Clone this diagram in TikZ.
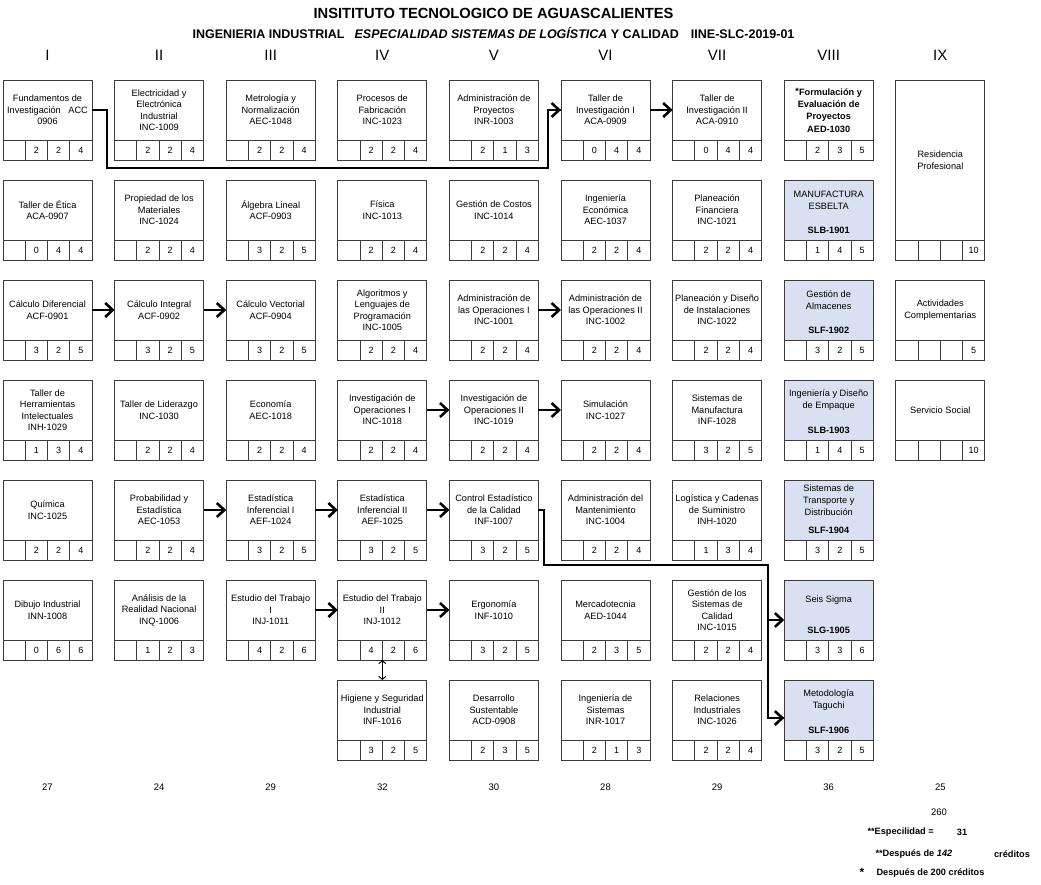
\documentclass[tikz,border=0pt]{standalone}
\usepackage{fontspec}
\setmainfont{Liberation Sans}
\usepackage{tikz}
\usetikzlibrary{arrows.meta}
\definecolor{azulesp}{RGB}{217,224,241}
\definecolor{borde}{RGB}{60,60,60}

% caja de materia: [opciones]{nombre}{columna}{renglon}{texto}{hrs}{hrs}{creditos}
\newcommand{\materia}[8][]{%
  \node[materia,#1] (#2) at ({3+111.6*(#3-1)},{80+100*(#4-1)}) {#5};
  \draw[celdas] (#2.south west) rectangle ([yshift=-20pt]#2.south east);
  \foreach \k in {1,2,3}
    \draw[celdas] ([xshift={22.25pt*\k}]#2.south west) -- ++(0,20);
  \node[cifra] at ([xshift=33.4pt,yshift=-10pt]#2.south west) {#6};
  \node[cifra] at ([xshift=55.6pt,yshift=-10pt]#2.south west) {#7};
  \node[cifra] at ([xshift=77.9pt,yshift=-10pt]#2.south west) {#8};
}
% materia de especialidad (columna VIII)
\newcommand{\especial}[7]{%
  \materia[fill=azulesp]{#1}{8}{#2}{}{#5}{#6}{#7}
  \node[titulo] (#1-t) at ([yshift=-20pt]#1.north) {#3};
  \node[clave] (#1-c) at ([yshift=-50.5pt]#1.north) {#4};
}

\begin{document}
\begin{tikzpicture}[x=1pt,y=-1pt,
  materia/.style={draw=borde,line width=0.9pt,rectangle,anchor=north west,outer sep=0pt,inner sep=1pt,minimum width=89pt,minimum height=60pt,align=center,font=\fontsize{9.2}{11.5}\selectfont},
  celdas/.style={draw=borde,line width=0.9pt},
  cifra/.style={font=\fontsize{9}{11}\selectfont},
  titulo/.style={align=center,font=\fontsize{9.2}{12}\selectfont},
  clave/.style={font=\bfseries\fontsize{9.2}{11}\selectfont},
  flecha/.style={line width=2.6pt,-{Straight Barb[length=7.5pt,width=14pt]}},
  linea/.style={line width=1.2pt},
  doble/.style={line width=1pt,{Straight Barb[length=3pt,width=7pt]}-{Straight Barb[length=3pt,width=7pt]}},
  semestre/.style={font=\fontsize{15}{15}\selectfont},
  total/.style={font=\fontsize{9.5}{11}\selectfont},
  nota/.style={anchor=west,font=\bfseries\fontsize{9.2}{11}\selectfont}]
\useasboundingbox (0,0) rectangle (1041,885);

\node[font=\bfseries\fontsize{14.7}{16}\selectfont] (encabezado) at (493.5,13) {INSITITUTO TECNOLOGICO DE AGUASCALIENTES};
\node[font=\bfseries\fontsize{12.5}{14}\selectfont] (subencabezado) at (493.5,33) {INGENIERIA INDUSTRIAL\hspace{10pt}\textit{ESPECIALIDAD SISTEMAS DE LOGÍSTICA} Y CALIDAD\hspace{12pt}IINE-SLC-2019-01};
\foreach \c/\t in {1/I,2/II,3/III,4/IV,5/V,6/VI,7/VII,8/VIII,9/IX}
  \node[semestre] (sem\c) at ({47.5+111.6*(\c-1)},55) {\t};

% renglon 1
\materia{fund}{1}{1}{Fundamentos de\\Investigación\ \ \ ACC\\0906}{2}{2}{4}
\materia{elec}{2}{1}{Electricidad y\\Electrónica\\Industrial\\INC-1009}{2}{2}{4}
\materia{metro}{3}{1}{Metrología y\\Normalización\\AEC-1048}{2}{2}{4}
\materia{procesos}{4}{1}{Procesos de\\Fabricación\\INC-1023}{2}{2}{4}
\materia{adminProy}{5}{1}{Administración de\\Proyectos\\INR-1003}{2}{1}{3}
\materia{tallerInv1}{6}{1}{Taller de\\Investigación I\\ACA-0909}{0}{4}{4}
\materia{tallerInv2}{7}{1}{Taller de\\Investigación II\\ACA-0910}{0}{4}{4}
\materia[font=\bfseries\fontsize{9.2}{12.3}\selectfont]{formula}{8}{1}{\raisebox{1pt}{*}Formulación y\\Evaluación de\\Proyectos\\AED-1030}{2}{3}{5}
\materia[minimum height=160pt]{residencia}{9}{1}{Residencia\\Profesional}{}{}{10}

% renglon 2
\materia{etica}{1}{2}{Taller de Ética\\ACA-0907}{0}{4}{4}
\materia{propiedad}{2}{2}{Propiedad de los\\Materiales\\INC-1024}{2}{2}{4}
\materia{algebra}{3}{2}{Álgebra Lineal\\ACF-0903}{3}{2}{5}
\materia{fisica}{4}{2}{Física\\INC-1013}{2}{2}{4}
\materia{costos}{5}{2}{Gestión de Costos\\INC-1014}{2}{2}{4}
\materia{ingEco}{6}{2}{Ingeniería\\Económica\\AEC-1037}{2}{2}{4}
\materia{planFin}{7}{2}{Planeación\\Financiera\\INC-1021}{2}{2}{4}
\especial{manufactura}{2}{MANUFACTURA\\ESBELTA}{SLB-1901}{1}{4}{5}

% renglon 3
\materia{calDif}{1}{3}{Cálculo Diferencial\\ACF-0901}{3}{2}{5}
\materia{calInt}{2}{3}{Cálculo Integral\\ACF-0902}{3}{2}{5}
\materia{calVec}{3}{3}{Cálculo Vectorial\\ACF-0904}{3}{2}{5}
\materia{algoritmos}{4}{3}{Algoritmos y\\Lenguajes de\\Programación\\INC-1005}{2}{2}{4}
\materia{adminOp1}{5}{3}{Administración de\\las Operaciones I\\INC-1001}{2}{2}{4}
\materia{adminOp2}{6}{3}{Administración de\\las Operaciones II\\INC-1002}{2}{2}{4}
\materia{planDis}{7}{3}{Planeación y Diseño\\de Instalaciones\\INC-1022}{2}{2}{4}
\especial{almacenes}{3}{Gestión de\\Almacenes}{SLF-1902}{3}{2}{5}
\materia{actividades}{9}{3}{Actividades\\Complementarias}{}{}{5}

% renglon 4
\materia{herramientas}{1}{4}{Taller de\\Herramientas\\Intelectuales\\INH-1029}{1}{3}{4}
\materia{liderazgo}{2}{4}{Taller de Liderazgo\\INC-1030}{2}{2}{4}
\materia{economia}{3}{4}{Economía\\AEC-1018}{2}{2}{4}
\materia{invOp1}{4}{4}{Investigación de\\Operaciones I\\INC-1018}{2}{2}{4}
\materia{invOp2}{5}{4}{Investigación de\\Operaciones II\\INC-1019}{2}{2}{4}
\materia{simulacion}{6}{4}{Simulación\\INC-1027}{2}{2}{4}
\materia{sisManu}{7}{4}{Sistemas de\\Manufactura\\INF-1028}{3}{2}{5}
\especial{empaque}{4}{Ingeniería y Diseño\\de Empaque}{SLB-1903}{1}{4}{5}
\materia{servicio}{9}{4}{Servicio Social}{}{}{10}

% renglon 5
\materia{quimica}{1}{5}{Química\\INC-1025}{2}{2}{4}
\materia{probabilidad}{2}{5}{Probabilidad y\\Estadística\\AEC-1053}{2}{2}{4}
\materia{estInf1}{3}{5}{Estadística\\Inferencial I\\AEF-1024}{3}{2}{5}
\materia{estInf2}{4}{5}{Estadística\\Inferencial II\\AEF-1025}{3}{2}{5}
\materia{control}{5}{5}{Control Estadístico\\de la Calidad\\INF-1007}{3}{2}{5}
\materia{mantenimiento}{6}{5}{Administración del\\Mantenimiento\\INC-1004}{2}{2}{4}
\materia{logistica}{7}{5}{Logística y Cadenas\\de Suministro\\INH-1020}{1}{3}{4}
\especial{transporte}{5}{Sistemas de\\Transporte y\\Distribución}{SLF-1904}{3}{2}{5}

% renglon 6
\materia{dibujo}{1}{6}{Dibujo Industrial\\INN-1008}{0}{6}{6}
\materia{analisis}{2}{6}{Análisis de la\\Realidad Nacional\\INQ-1006}{1}{2}{3}
\materia{trabajo1}{3}{6}{Estudio del Trabajo\\I\\INJ-1011}{4}{2}{6}
\materia{trabajo2}{4}{6}{Estudio del Trabajo\\II\\INJ-1012}{4}{2}{6}
\materia{ergonomia}{5}{6}{Ergonomía\\INF-1010}{3}{2}{5}
\materia{mercado}{6}{6}{Mercadotecnia\\AED-1044}{2}{3}{5}
\materia{gestCal}{7}{6}{Gestión de los\\Sistemas de\\Calidad\\INC-1015}{2}{2}{4}
\especial{seisSigma}{6}{Seis Sigma}{SLG-1905}{3}{3}{6}

% renglon 7
\materia{higiene}{4}{7}{Higiene y Seguridad\\Industrial\\INF-1016}{3}{2}{5}
\materia{desarrollo}{5}{7}{Desarrollo\\Sustentable\\ACD-0908}{2}{3}{5}
\materia{ingSis}{6}{7}{Ingeniería de\\Sistemas\\INR-1017}{2}{1}{3}
\materia{relaciones}{7}{7}{Relaciones\\Industriales\\INC-1026}{2}{2}{4}
\especial{taguchi}{7}{Metodología\\Taguchi}{SLF-1906}{3}{2}{5}

% seriaciones
\path (tallerInv1) edge[flecha] (tallerInv2);
\path (calDif) edge[flecha] (calInt);
\path (calInt) edge[flecha] (calVec);
\path (adminOp1) edge[flecha] (adminOp2);
\path (invOp1) edge[flecha] (invOp2);
\path (invOp2) edge[flecha] (simulacion);
\path (probabilidad) edge[flecha] (estInf1);
\path (estInf1) edge[flecha] (estInf2);
\path (estInf2) edge[flecha] (control);
\path (trabajo1) edge[flecha] (trabajo2);
\path (trabajo2) edge[flecha] (ergonomia);
\draw[doble] ([yshift=-20pt]trabajo2.south) -- (higiene.north);

% Fundamentos -> Taller de Investigacion I
\coordinate (f1) at (107,168);
\coordinate (f2) at (548,168);
\draw[linea] (fund.east) -| (f1) -- (f2) |- (tallerInv1.west);
\draw[flecha] (f2 |- tallerInv1.west) -- (tallerInv1.west);

% Control Estadistico -> Seis Sigma, Metodologia Taguchi
\coordinate (c1) at (544,565);
\coordinate (c2) at (768,565);
\coordinate (s1) at ([yshift=-10pt]seisSigma.west);
\coordinate (t1) at ([yshift=-8pt]taguchi.west);
\draw[linea] (control.east) -| (c1) -- (c2) |- (t1);
\draw[flecha] (c2 |- s1) -- (s1);
\draw[flecha] (c2 |- t1) -- (t1);

% creditos por semestre
\foreach \c/\t in {1/27,2/24,3/29,4/32,5/30,6/28,7/29,8/36,9/25}
  \node[total] (tot\c) at ({47.5+111.6*(\c-1)},787) {\t};
\node[total] (suma) at (939,812) {260};
\node[nota] (esp) at (864,832) {**Especilidad =};
\node[nota,anchor=center] (esp31) at (962,832) {31};
\node[nota] (nota1) at (872,854) {**Después de \textit{142}};
\node[nota,anchor=center] (nota1b) at (1012,854) {créditos};
\node[nota,anchor=center,font=\bfseries\fontsize{12}{12}\selectfont] (ast) at (862,872) {*};
\node[nota] (nota2) at (873,873) {Después de 200 créditos};
\end{tikzpicture}
\end{document}
